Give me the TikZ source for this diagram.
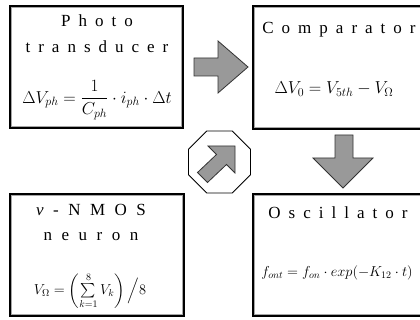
\documentclass[tikz,border=0pt]{standalone}
\usepackage{fontspec}
\setmainfont{Liberation Serif}
\usepackage{amsmath}
\newcommand\ls{\hspace{8pt}}
\newcommand\lsw{\hspace{9.5pt}}
\tikzset{
  box/.style={draw=black, line width=3pt, fill=white, inner sep=0pt},
  innerline/.style={draw=black!35, line width=0.7pt},
  ttl/.style={inner sep=0pt, font=\fontsize{17}{20}\selectfont},
  eqn/.style={inner sep=0pt, font=\fontsize{18}{20}\selectfont},
  blockarrow/.style={fill=black!40, draw=black!80, line width=0.8pt, line join=miter},
  octa/.style={draw=black, line width=0.9pt, fill=white}
}
\begin{document}
\begin{tikzpicture}[x=1pt,y=-1pt]
\useasboundingbox (0,0) rectangle (420,320);
\clip (0,0) rectangle (420,320);
\fill[white] (0,0) rectangle (420,320);

% boxes
\node[box, minimum width=172pt, minimum height=121pt] (photo) at (96.5,67) {};
\node[box, minimum width=169.5pt, minimum height=122pt] (comp) at (338.25,67.5) {};
\node[box, minimum width=173pt, minimum height=121pt] (nmos) at (97,255) {};
\node[box, minimum width=169.5pt, minimum height=121pt] (osc) at (338.25,255) {};
\foreach \b in {photo,comp,nmos,osc}{
  \draw[innerline] ([shift={(2.2pt,-2.2pt)}]\b.north west) rectangle ([shift={(-2.2pt,2.2pt)}]\b.south east);
}

% texts
\node[ttl] (photoA) at (97,21) {P\ls h\ls o\ls t\ls o};
\node[ttl] (photoB) at (97,47) {t\ls r\ls a\ls n\ls s\ls d\ls u\ls c\ls e\ls r};
\node[eqn] (photoE) at (97,100) {$\Delta V_{ph}=\dfrac{1}{C_{ph}}\cdot i_{ph}\cdot\Delta t$};

\node[ttl] (compA) at (339,30) {C\ls o\ls m\ls p\ls a\ls r\ls a\ls t\ls o\ls r};
\node[eqn] (compE) at (334,89) {$\Delta V_0=V_{5th}-V_{\Omega}$};

\node[ttl] (nmosA) at (91,210) {\textit{v}\lsw-\lsw N\lsw M\lsw O\lsw S};
\node[ttl] (nmosB) at (91,237) {n\lsw e\lsw u\lsw r\lsw o\lsw n};
\node[eqn, font=\fontsize{14.4}{17}\selectfont] (nmosE) at (90,291) {$V_{\Omega}=\left(\sum\limits_{k=1}^{8}V_k\right)\Big/8$};

\node[ttl] (oscA) at (338,213) {O\ls s\ls c\ls i\ls l\ls l\ls a\ls t\ls o\ls r};
\node[eqn, font=\fontsize{14.4}{17}\selectfont] (oscE) at (337,273) {$f_{ont}=f_{on}\cdot exp(-K_{12}\cdot t)$};

% right block arrow
\draw[blockarrow] (194,58) -- (218,58) -- (218,41) -- (248,67) -- (218,93) -- (218,76) -- (194,76) -- cycle;
% down block arrow
\draw[blockarrow] (335,135) -- (353,135) -- (353,158) -- (373,158) -- (343,188) -- (313,158) -- (335,158) -- cycle;

% octagon with diagonal arrow
\draw[octa] (206.7,131) -- (232.3,131) -- (250.5,149.2) -- (250.5,174.8) -- (232.3,193) -- (206.7,193) -- (188.5,174.8) -- (188.5,149.2) -- cycle;
\draw[blockarrow] (235,146) -- (235,173) -- (226.5,164.5) -- (207.5,182.5) -- (197.5,172.5) -- (216.5,154.5) -- (208,146) -- cycle;
\end{tikzpicture}
\end{document}
